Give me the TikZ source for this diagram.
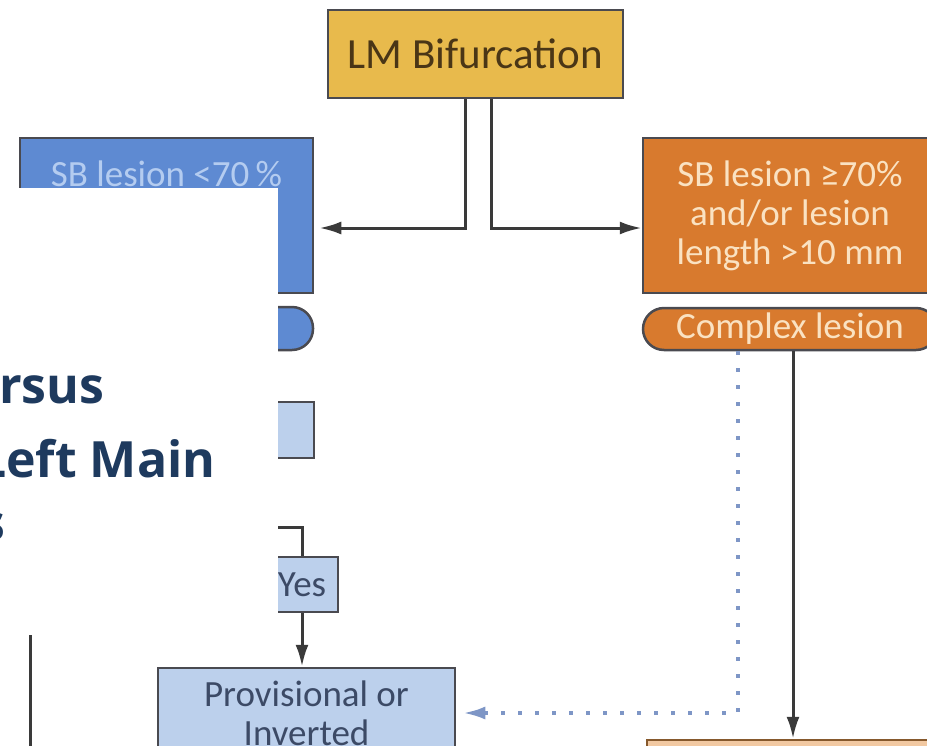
\documentclass[tikz,border=0pt]{standalone}
\usepackage{fontspec}
\setmainfont{Carlito}
\newfontfamily\panelfont{Open Sans}
\usetikzlibrary{arrows.meta, calc}

\definecolor{goldbox}{HTML}{E8BA4C}
\definecolor{goldtext}{HTML}{4A3616}
\definecolor{bluebox}{HTML}{5E8AD2}
\definecolor{bluetext}{HTML}{B4CCF0}
\definecolor{paleblue}{HTML}{BCD0EC}
\definecolor{paletext}{HTML}{3C4A66}
\definecolor{orangebox}{HTML}{D87A2E}
\definecolor{orangetext}{HTML}{FAE2C2}
\definecolor{peachbox}{HTML}{F2C9A2}
\definecolor{edgegray}{HTML}{4A4A50}
\definecolor{linegray}{HTML}{3A3A3A}
\definecolor{dotblue}{HTML}{7E96C6}
\definecolor{navy}{HTML}{1E3A5E}

\begin{document}
\begin{tikzpicture}[
    % GLOBAL CFG
    x=1pt, y=-1pt,
    >=Latex,
    % Styles
    box/.style={% For the flow boxes
        rectangle,
        draw=edgegray,
        line width=2.5pt,
        inner sep=0pt,
        align=center,
        font=\fontsize{37}{39}\selectfont,
        },
    pill/.style={% For the rounded tags under a box
        box,
        rounded corners=21pt,
        },
    line/.style={% Plain connectors
        draw=linegray,
        line width=3pt,
        },
    arr/.style={% Connectors with a head
        line,
        -{Latex[length=22pt,width=13pt]},
        },
    dots/.style={% Dotted blue connector
        draw=dotblue,
        line width=3.5pt,
        dash pattern=on 4pt off 13pt,
        -{Latex[length=22pt,width=13pt]},
        },
    panel/.style={% White panel laid over the chart
        rectangle,
        fill=white,
        inner sep=0pt,
        },
    paneltxt/.style={% Title text on the panel
        text=navy,
        inner sep=0pt,
        font=\panelfont\bfseries\fontsize{50}{54}\selectfont,
        },
    ]
\useasboundingbox (0,0) rectangle (927,745);
\clip (0,0) rectangle (927,745);

% Top box
\node [box, fill=goldbox, text=goldtext, minimum width=295pt, minimum height=88pt,
    font=\fontsize{43}{46}\selectfont] (lmbif) at (475.5,54) {LM Bifurcation};

% Left branch
\node [box, fill=bluebox, minimum width=293pt, minimum height=155pt] (sblow) at (166.5,215.5) {};
\node [text=bluetext, inner sep=0pt, font=\fontsize{37}{39}\selectfont] (sblowtxt)
    at ($(sblow.north)+(0,37)$) {SB lesion <70\,\%};
\node [pill, fill=bluebox, minimum width=293pt, minimum height=43pt] (simple) at (166.5,328.5) {};
\node [box, fill=paleblue, minimum width=294pt, minimum height=56pt] (lowq) at (167,430) {};
\node [box, fill=paleblue, text=paletext, minimum width=72pt, minimum height=55pt] (yesbox) at (302,584.5) {Yes};
\node [box, fill=paleblue, text=paletext, minimum width=297pt, minimum height=90pt] (provis) at (306.5,713) {Provisional or\\Inverted};

% Right branch
\node [box, fill=orangebox, text=orangetext, minimum width=294pt, minimum height=155pt] (sbhigh) at (790,215.5)
    {SB lesion ≥70\%\\and/or lesion\\length >10 mm};
\node [pill, fill=orangebox, text=orangetext, minimum width=294pt, minimum height=42pt] (complex) at (790,329) {Complex lesion};
\node [box, fill=peachbox, draw=brown!70!black, minimum width=292pt, minimum height=60pt] (nextbox) at (793,770) {};

% Connectors
\draw [arr, shorten >=5pt] ([xshift=-10pt]lmbif.south) |- ([yshift=-12.5pt]sblow.east);
\draw [arr] ([xshift=16pt]lmbif.south) |- ([yshift=-12.5pt]sbhigh.west);
\coordinate (yesin) at (262,527);
\draw [line] (yesin) -| (yesbox.north);
\draw [arr] (yesbox.south) -- (yesbox.south |- provis.north);
\draw [arr] (complex.south -| nextbox.north) -- (nextbox.north);
\draw [dots, shorten >=7pt] ([xshift=-52pt]complex.south) |- (provis.east);

% Panel on top
\node [panel, minimum width=278pt, minimum height=447pt, anchor=north west] (panel) at (0,188) {};
\node [paneltxt, anchor=base west] (vstxt) at (-1,403) {rsus};
\node [paneltxt, anchor=base west] (lmtxt) at (-22,477) {Left Main};
\node [paneltxt, anchor=base east] (fragtxt) at (6,540) {s};
\coordinate (leftend) at (30,760);
\draw [line] (panel.south -| leftend) -- (leftend);

\end{tikzpicture}
\end{document}
